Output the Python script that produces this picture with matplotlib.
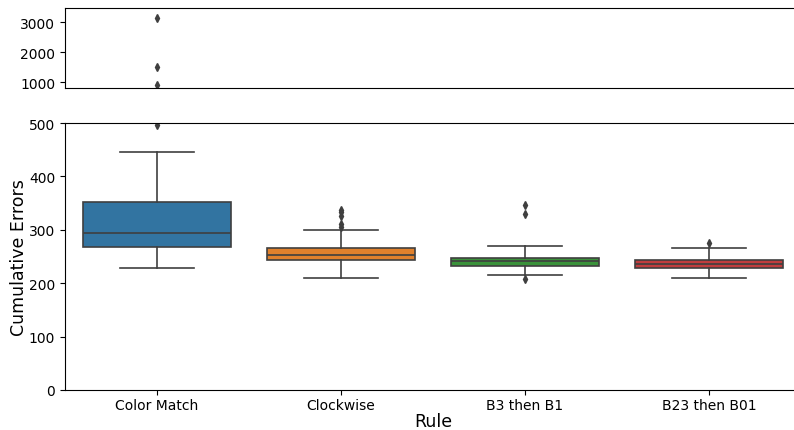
import matplotlib
matplotlib.use("Agg")
import matplotlib.pyplot as plt

# box statistics
rules = ["Color Match", "Clockwise", "B3 then B1", "B23 then B01"]
q1 = [267, 243, 233, 228]
med = [294, 253, 241, 236]
q3 = [352, 266, 248, 244]
whislo = [228, 210, 216, 209]
whishi = [445, 300, 270, 265]
outliers = [
    [497, 887, 1500, 3160],
    [306, 311, 325, 333, 337],
    [208, 329, 346],
    [275],
]
colors = ["#3274a1", "#e1812c", "#3a923a", "#c03d3e"]

stats = []
for i, name in enumerate(rules):
    stats.append(dict(label=name, q1=q1[i], med=med[i], q3=q3[i],
                      whislo=whislo[i], whishi=whishi[i], fliers=outliers[i]))

fig = plt.figure(figsize=(7.94, 4.31), dpi=100)
W, H = 794, 431
ax_top = fig.add_axes([65 / W, 1 - 88.7 / H, (801 - 65) / W, (88.7 - 9) / H])
ax_bot = fig.add_axes([65 / W, 1 - 391 / H, (801 - 65) / W, (391 - 124) / H])

line_c = "#3f3f3f"
for ax in (ax_top, ax_bot):
    bp = ax.bxp(stats, positions=range(len(rules)), widths=0.8, patch_artist=True,
                boxprops=dict(edgecolor=line_c, linewidth=1.2),
                medianprops=dict(color=line_c, linewidth=1.2),
                whiskerprops=dict(color=line_c, linewidth=1.2),
                capprops=dict(color=line_c, linewidth=1.2),
                flierprops=dict(marker="d", markerfacecolor=line_c,
                                markeredgecolor=line_c, markersize=4))
    for patch, c in zip(bp["boxes"], colors):
        patch.set_facecolor(c)
    ax.set_xlim(-0.5, 3.5)
    ax.tick_params(labelsize=10)

ax_top.set_ylim(810, 3480)
ax_top.set_yticks([1000, 2000, 3000])
ax_top.set_xticks([])
ax_bot.set_ylim(0, 500)
ax_bot.set_xticks(range(len(rules)))
ax_bot.set_xticklabels(rules)
ax_bot.tick_params(axis="x", pad=2.5)
ax_bot.set_xlabel("Rule", fontsize=12.5, labelpad=0)
ax_bot.set_ylabel("Cumulative Errors", fontsize=12.5, labelpad=0.5)

fig.savefig("out.png", dpi=100)
